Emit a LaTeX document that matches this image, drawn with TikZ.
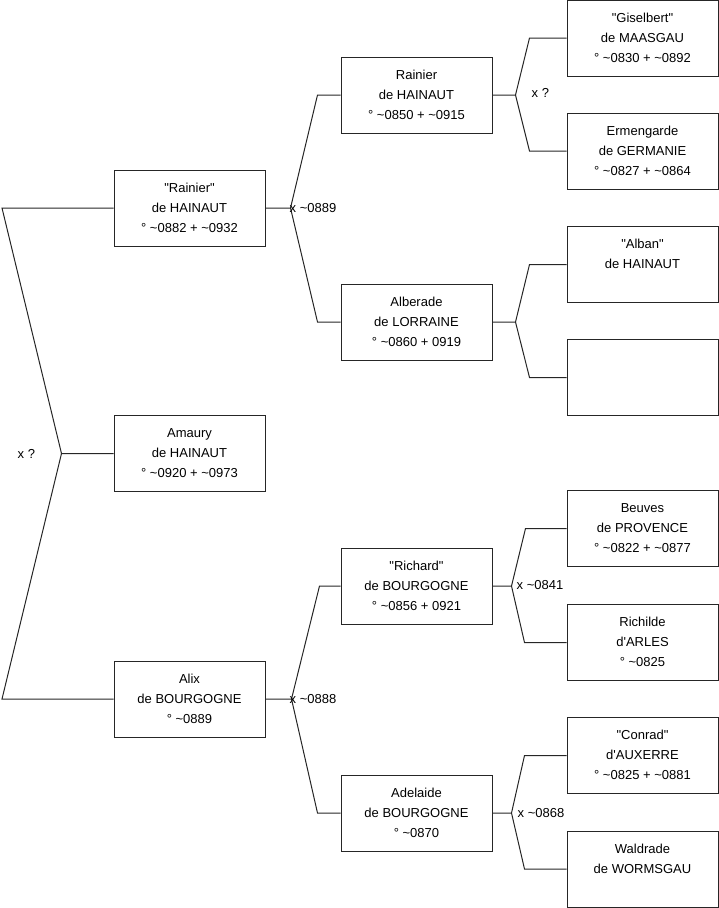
\documentclass[tikz,border=0pt]{standalone}
\usepackage{fontspec}
\newfontfamily\arialfont{Liberation Sans}
\usetikzlibrary{calc}

\tikzset{
    person/.style={draw=black!85, line width=1pt, minimum width=151pt,
        minimum height=76pt, inner sep=0pt, align=center,
        font=\arialfont\fontsize{13}{20}\selectfont},
    link/.style={line width=1pt, draw=black!85},
    wed/.style={anchor=west, inner sep=0pt,
        font=\arialfont\fontsize{13}{15}\selectfont}
}
\newcommand{\who}[3]{\strut#1\\\strut#2\\\strut#3}
\newcommand{\ca}{\textasciitilde}

\begin{document}
\begin{tikzpicture}[x=1pt, y=-1pt]
\useasboundingbox (0,0) rectangle (719,908);

% Generation 0
\node[person] (amaury) at (189.5,453.5) {\who{Amaury}{de HAINAUT}{° \ca0920 + \ca0973}};

% Generation 1
\node[person] (rainierA) at (189.5,208) {\who{"Rainier"}{de HAINAUT}{° \ca0882 + \ca0932}};
\node[person] (alix) at (189.5,699) {\who{Alix}{de BOURGOGNE}{° \ca0889}};

% Generation 2
\node[person] (rainierB) at (416.5,95) {\who{Rainier}{de HAINAUT}{° \ca0850 + \ca0915}};
\node[person] (alberade) at (416.5,322) {\who{Alberade}{de LORRAINE}{° \ca0860 + 0919}};
\node[person] (richard) at (416.5,586) {\who{"Richard"}{de BOURGOGNE}{° \ca0856 + 0921}};
\node[person] (adelaide) at (416.5,813) {\who{Adelaide}{de BOURGOGNE}{° \ca0870}};

% Generation 3
\node[person] (giselbert) at (642.5,38) {\who{"Giselbert"}{de MAASGAU}{° \ca0830 + \ca0892}};
\node[person] (ermengarde) at (642.5,151) {\who{Ermengarde}{de GERMANIE}{° \ca0827 + \ca0864}};
\node[person] (alban) at (642.5,264.5) {\who{"Alban"}{de HAINAUT}{}};
\node[person] (unknown) at (642.5,377.5) {\who{}{}{}};
\node[person] (beuves) at (642.5,528.5) {\who{Beuves}{de PROVENCE}{° \ca0822 + \ca0877}};
\node[person] (richilde) at (642.5,642.5) {\who{Richilde}{d'ARLES}{° \ca0825}};
\node[person] (conrad) at (642.5,755.5) {\who{"Conrad"}{d'AUXERRE}{° \ca0825 + \ca0881}};
\node[person] (waldrade) at (642.5,869) {\who{Waldrade}{de WORMSGAU}{}};

% Forks
\draw[link] (amaury.west) -- ++(-52,0) coordinate (f0) -- (2,208) -- (rainierA.west);
\draw[link] (f0) -- (2,699) -- (alix.west);

\draw[link] (rainierA.east) -- ++(25,0) coordinate (f1) -- ([xshift=-23pt]rainierB.west) -- (rainierB.west);
\draw[link] (f1) -- ([xshift=-23pt]alberade.west) -- (alberade.west);
\draw[link] (alix.east) -- ++(26,0) coordinate (f2) -- ([xshift=-21pt]richard.west) -- (richard.west);
\draw[link] (f2) -- ([xshift=-23pt]adelaide.west) -- (adelaide.west);

\draw[link] (rainierB.east) -- ++(23,0) coordinate (f3) -- ([xshift=-37pt]giselbert.west) -- (giselbert.west);
\draw[link] (f3) -- ([xshift=-37pt]ermengarde.west) -- (ermengarde.west);
\draw[link] (alberade.east) -- ++(23,0) coordinate (f4) -- ([xshift=-37pt]alban.west) -- (alban.west);
\draw[link] (f4) -- ([xshift=-37pt]unknown.west) -- (unknown.west);
\draw[link] (richard.east) -- ++(19,0) coordinate (f5) -- ([xshift=-41pt]beuves.west) -- (beuves.west);
\draw[link] (f5) -- ([xshift=-42pt]richilde.west) -- (richilde.west);
\draw[link] (adelaide.east) -- ++(19,0) coordinate (f6) -- ([xshift=-42pt]conrad.west) -- (conrad.west);
\draw[link] (f6) -- ([xshift=-42pt]waldrade.west) -- (waldrade.west);

% Marriages
\node[wed] (w0) at ([xshift=-44pt]f0) {x ?};
\node[wed] (w1) at ([xshift=-1pt]f1) {x \ca0889};
\node[wed] (w2) at ([xshift=-2pt]f2) {x \ca0888};
\node[wed] (w3) at ([xshift=16pt,yshift=2pt]f3) {x ?};
\node[wed] (w5) at ([xshift=5pt,yshift=1pt]f5) {x \ca0841};
\node[wed] (w6) at ([xshift=6pt]f6) {x \ca0868};
\end{tikzpicture}
\end{document}
